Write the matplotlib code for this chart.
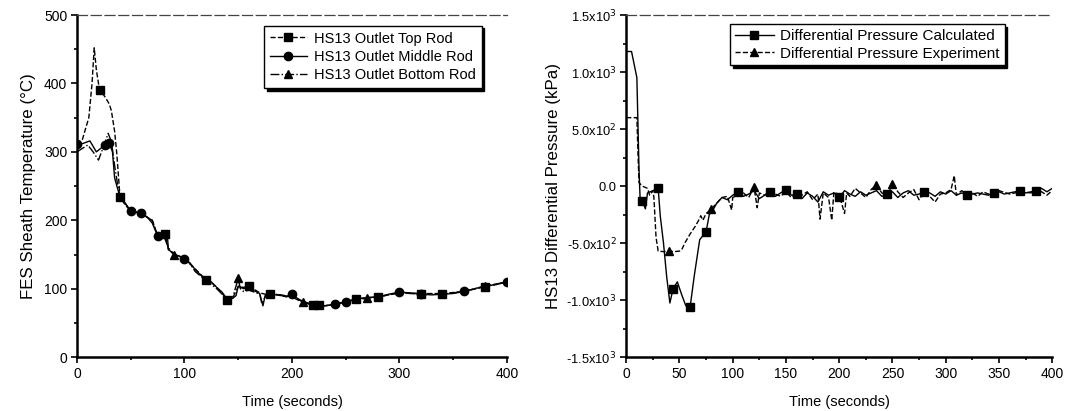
import matplotlib
matplotlib.use('Agg')
import matplotlib.pyplot as plt
from matplotlib.ticker import MultipleLocator, FixedLocator

plt.rcParams['font.family'] = ['Liberation Sans', 'DejaVu Sans']

# left panel: sheath temperature
x_top = [0, 5, 11, 14, 16, 18, 21, 24, 27, 30, 32, 35, 37, 40, 45, 50, 60, 70, 75, 80, 82, 85, 90, 100, 105, 110, 120,
         125, 130, 140, 145, 150, 155, 160, 170, 175, 180, 185, 190, 200, 210, 220, 225, 230, 240, 260, 270, 280, 300,
         320, 340, 360, 380, 400]
y_top = [310, 318, 350, 400, 452, 420, 390, 385, 378, 370, 360, 330, 298, 234, 222, 214, 210, 200, 178, 180, 180, 157,
         152, 143, 136, 129, 113, 109, 102, 84, 87, 103, 102, 104, 94, 92, 92, 92, 90, 89, 82, 76, 76, 75, 77, 85, 87,
         88, 94, 93, 93, 96, 103, 110]
top_marks = [21, 40, 82, 120, 140, 160, 180, 220, 225, 260, 280, 320, 340, 380]

x_mid = [0, 5, 12, 18, 22, 26, 30, 33, 35, 38, 40, 45, 50, 55, 60, 65, 70, 75, 80, 84, 85, 90, 95, 100, 103, 105, 110,
         115, 120, 125, 130, 135, 140, 145, 148, 150, 155, 160, 165, 170, 173, 175, 180, 185, 190, 195, 200, 205, 210,
         220, 225, 230, 240, 250, 260, 270, 280, 290, 300, 310, 320, 330, 340, 350, 360, 370, 380, 390, 400]
y_mid = [312, 312, 316, 300, 305, 310, 313, 300, 262, 245, 235, 225, 213, 212, 210, 205, 196, 177, 179, 180, 158, 150,
         148, 144, 140, 138, 128, 120, 113, 110, 102, 95, 84, 86, 90, 104, 100, 104, 97, 93, 75, 90, 92, 91, 90, 88, 92,
         86, 80, 77, 76, 75, 77, 81, 85, 87, 88, 92, 95, 94, 92, 91, 92, 93, 96, 100, 104, 106, 110]
mid_marks = [0, 26, 30, 50, 60, 75, 100, 200, 240, 250, 300, 320, 360, 400]

x_bot = [0, 5, 10, 15, 20, 24, 29, 32, 35, 38, 40, 45, 50, 60, 70, 75, 80, 85, 90, 95, 100, 105, 110, 120, 130, 140,
         145, 150, 152, 155, 160, 170, 172, 175, 180, 190, 200, 210, 220, 230, 240, 250, 260, 270, 280, 300, 320, 340,
         360, 380, 400]
y_bot = [300, 305, 310, 300, 288, 305, 327, 315, 280, 250, 236, 224, 214, 209, 200, 178, 180, 160, 150, 146, 142, 137,
         125, 112, 100, 84, 88, 115, 100, 96, 98, 92, 78, 88, 92, 91, 88, 80, 76, 75, 77, 81, 84, 86, 88, 94, 92, 92,
         96, 104, 110]
bot_marks = [90, 150, 210, 270, 380]

# right panel: differential pressure
x_calc = [0, 5, 10, 12, 13, 15, 18, 20, 25, 28, 30, 32, 35, 38, 41, 44, 48, 52, 56, 60, 64, 69, 75, 78, 82, 85,
          90, 95, 100, 105, 110, 115, 120, 125, 130, 135, 140, 145, 150, 155, 160, 165, 170, 175, 180, 185, 190, 195,
          200, 205, 210, 215, 220, 225, 230, 235, 240, 245, 250, 255, 260, 265, 270, 275, 280, 285, 290, 295, 300,
          305, 310, 315, 320, 325, 330, 335, 340, 345, 350, 355, 360, 365, 370, 375, 380, 385, 390, 395, 400]
y_calc = [1180, 1180, 950, 150, -100, -130, -200, -60, -40, -30, -20, -265, -500, -795, -1025, -900, -840,
          -950, -1050, -1060, -780, -470, -400, -250, -200, -150, -100, -120, -80, -50, -90, -70, -40, -110, -80, -50,
          -90, -60, -30, -80, -70, -110, -60, -90, -140, -50, -80, -60, -100, -40, -70, -90, -50, -80, -60, -40, -90,
          -70, -50, -100, -60, -40, -80, -70, -50, -60, -90, -50, -70, -40, -80, -60, -80, -70, -60, -70, -80, -60,
          -50, -70, -60, -50, -40, -60, -50, -40, -20, -50, -20]
calc_marks = [15, 30, 44, 60, 75, 105, 135, 150, 160, 200, 245, 280, 320, 345, 370, 385]

x_exp = [0, 10, 11, 12, 15, 20, 22, 25, 26, 28, 30, 35, 40, 45, 50, 52, 55, 60, 65, 68, 70, 72, 75, 78, 80, 85, 90, 95,
         99, 100, 105, 110, 115, 120, 123, 125, 130, 135, 140, 145, 150, 155, 160, 165, 170, 175, 180, 182, 185, 190,
         193, 195, 200, 205, 207, 210, 215, 220, 225, 230, 235, 240, 245, 250, 255, 260, 265, 270, 275, 280, 285, 290,
         295, 300, 305, 308, 310, 315, 320, 325, 330, 335, 340, 345, 350, 360, 370, 380, 385, 390, 395, 400]
y_exp = [600, 600, 300, 30, 0, -20, -80, -40, -100, -450, -570, -575, -570, -575, -570, -560, -500, -420, -350, -300,
         -260, -300, -240, -220, -200, -150, -100, -90, -210, -100, -80, -60, -100, -10, -190, -60, -80, -40, -70, -90,
         -50, -100, -60, -80, -50, -120, -70, -290, -60, -100, -300, -50, -80, -240, -60, -90, -20, -60, -100, -30, 10,
         -60, -80, 20, -50, -100, -60, -30, -120, -50, -90, -140, -70, -60, -30, 90, -80, -40, -70, -60, -90, -50, -70,
         -60, -40, -70, -50, -60, -30, -50, -80, -40]
exp_marks = [40, 80, 120, 235, 250]

p_ticks = [1500, 1000, 500, 0, -500, -1000, -1500]
p_labels = [r'1.5x10$^3$', r'1.0x10$^3$', r'5.0x10$^2$', '0.0', r'-5.0x10$^2$', r'-1.0x10$^3$', r'-1.5x10$^3$']

fig = plt.figure(figsize=(10.65, 4.11), dpi=100)
ax1 = fig.add_axes([0.0723, 0.131, 0.4037, 0.8325])
ax2 = fig.add_axes([0.588, 0.131, 0.400, 0.8325])


def style_axes(ax):
    for side in ['left', 'bottom']:
        ax.spines[side].set_linewidth(1.8)
    ax.spines['top'].set_linewidth(0.9)
    ax.spines['top'].set_linestyle((0, (8, 3)))
    ax.spines['top'].set_color('#444444')
    ax.spines['right'].set_visible(False)
    ax.tick_params(which='both', direction='out', top=False, right=False, labelsize=10, width=1.2, pad=2.5)
    ax.tick_params(which='major', length=4.5)
    ax.tick_params(which='minor', length=2.5)


def mk(x, marks):
    return [x.index(v) for v in marks]


ax1.plot(x_top, y_top, color='black', lw=1.0, ls='--', marker='s', ms=6,
         markevery=mk(x_top, top_marks), label='HS13 Outlet Top Rod')
ax1.plot(x_mid, y_mid, color='black', lw=1.0, ls='-', marker='o', ms=6,
         markevery=mk(x_mid, mid_marks), label='HS13 Outlet Middle Rod')
ax1.plot(x_bot, y_bot, color='black', lw=1.0, ls='-.', marker='^', ms=6,
         markevery=mk(x_bot, bot_marks), label='HS13 Outlet Bottom Rod')
ax1.set_xlim(0, 400)
ax1.set_ylim(0, 500)
ax1.xaxis.set_major_locator(MultipleLocator(100))
ax1.xaxis.set_minor_locator(MultipleLocator(50))
ax1.yaxis.set_major_locator(MultipleLocator(100))
ax1.yaxis.set_minor_locator(MultipleLocator(50))
ax1.set_xlabel('Time (seconds)', fontsize=10.5, labelpad=10)
ax1.set_ylabel('FES Sheath Temperature (°C)', fontsize=12.2, labelpad=6)
style_axes(ax1)
leg1 = ax1.legend(loc='upper right', bbox_to_anchor=(0.958, 0.99), fontsize=10.5, frameon=True, fancybox=False,
                  shadow={'color': 'black', 'alpha': 1}, handlelength=2.5, borderpad=0.4, labelspacing=0.3,
                  handletextpad=0.5)
leg1.get_frame().set_edgecolor('black')
leg1.get_frame().set_linewidth(1.0)

ax2.plot(x_calc, y_calc, color='black', lw=1.0, ls='-', marker='s', ms=6,
         markevery=mk(x_calc, calc_marks), label='Differential Pressure Calculated')
ax2.plot(x_exp, y_exp, color='black', lw=1.0, ls='--', marker='^', ms=6,
         markevery=mk(x_exp, exp_marks), label='Differential Pressure Experiment')
ax2.set_xlim(0, 400)
ax2.set_ylim(-1500, 1500)
ax2.xaxis.set_major_locator(MultipleLocator(50))
ax2.xaxis.set_minor_locator(MultipleLocator(25))
ax2.yaxis.set_major_locator(FixedLocator(p_ticks))
ax2.yaxis.set_minor_locator(MultipleLocator(250))
ax2.set_yticklabels(p_labels)
ax2.set_xlabel('Time (seconds)', fontsize=10.5, labelpad=10)
ax2.set_ylabel('HS13 Differential Pressure (kPa)', fontsize=12.2, labelpad=4)
style_axes(ax2)
ax2.tick_params(axis='y', labelsize=9.3)
leg2 = ax2.legend(loc='upper right', bbox_to_anchor=(0.906, 0.995), fontsize=11, frameon=True, fancybox=False,
                  shadow={'color': 'black', 'alpha': 1}, handlelength=2.6, borderpad=0.3, labelspacing=0.25,
                  handletextpad=0.4)
leg2.get_frame().set_edgecolor('black')
leg2.get_frame().set_linewidth(1.0)

fig.savefig('out.png', dpi=100, facecolor='white')
